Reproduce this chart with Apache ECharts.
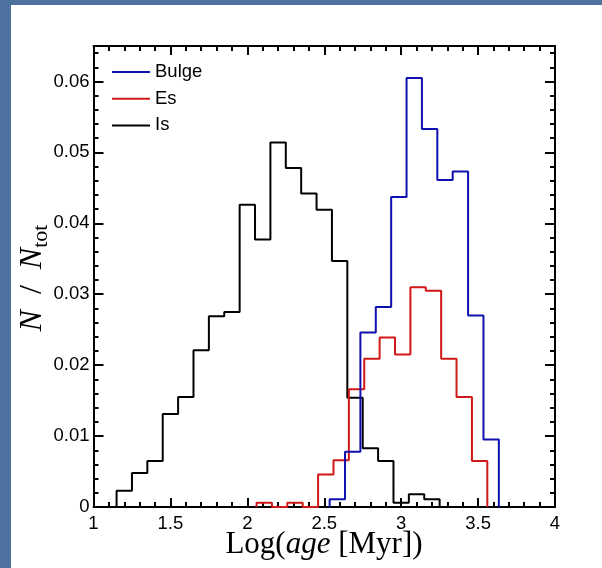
<!DOCTYPE html>
<html>
<head>
<meta charset="utf-8">
<script src="https://cdn.jsdelivr.net/npm/echarts@6/dist/echarts.min.js"></script>
<style>
  html, body { margin: 0; padding: 0; }
  body { width: 602px; height: 568px; background: #4e72a0; position: relative; overflow: hidden; }
  #panel { position: absolute; left: 11px; top: 5px; right: 0; bottom: 0; background: #ffffff; }
  #chart { position: absolute; left: 0; top: 0; width: 602px; height: 568px; }
</style>
</head>
<body>
<div id="panel"></div>
<div id="chart"></div>
<script>
// ---- data (histograms, bin width 0.1 in Log(age)) ----
const binWidth = 0.1;
const bulgeStart = 2.535;
const bulgeValues = [0.0011, 0.0078, 0.0246, 0.0282, 0.0437, 0.0605, 0.0533, 0.0461, 0.0473, 0.0270, 0.0095];
const esStart = 2.06;
const esValues = [0.0006, 0, 0.0006, 0, 0.0046, 0.0066, 0.0166, 0.0209, 0.0239, 0.0215, 0.0310, 0.0305, 0.0209, 0.0155, 0.0065];
const isStart = 1.15;
const isValues = [0.0023, 0.0048, 0.0065, 0.0131, 0.0155, 0.0221, 0.0269, 0.0275, 0.0426, 0.0377, 0.0514, 0.0478, 0.0442, 0.0419, 0.0347, 0.0154, 0.0083, 0.0065, 0.0006, 0.0018, 0.0011];
const seriesNames = ['Bulge', 'Es', 'Is'];
const xTicks = [1, 1.5, 2, 2.5, 3, 3.5, 4];
const yTicks = [0, 0.01, 0.02, 0.03, 0.04, 0.05, 0.06];

function stepPoints(start, values) {
  const pts = [[start, 0]];
  values.forEach((v, i) => {
    const a = +(start + i * binWidth).toFixed(4);
    const b = +(start + (i + 1) * binWidth).toFixed(4);
    pts.push([a, v], [b, v]);
  });
  pts.push([+(start + values.length * binWidth).toFixed(4), 0]);
  return pts;
}

const chart = echarts.init(document.getElementById('chart'), null, { renderer: 'canvas' });
const labelFont = { fontFamily: 'Liberation Sans, Arial, sans-serif', fontSize: 18.5, color: '#000' };
const lineStyleAxis = { color: '#000', width: 2 };

const xMajor = (pos, showLabel) => ({
  type: 'value', position: pos, min: xTicks[0], max: xTicks[xTicks.length - 1], interval: 0.5,
  axisLine: { show: true, onZero: false, lineStyle: lineStyleAxis },
  axisTick: { show: true, inside: true, length: 9, lineStyle: { color: '#000', width: 2 } },
  minorTick: { show: true, splitNumber: 5, length: 5, lineStyle: { color: '#000', width: 2 } },
  axisLabel: Object.assign({ show: showLabel, margin: 7 }, labelFont),
  splitLine: { show: false }, minorSplitLine: { show: false }
});
const yMajor = (pos, showLabel) => ({
  type: 'value', position: pos, min: 0, max: 0.065, interval: 0.01,
  axisLine: { show: true, onZero: false, lineStyle: lineStyleAxis },
  axisTick: { show: true, inside: true, length: 10, lineStyle: { color: '#000', width: 2 } },
  axisLabel: Object.assign({ show: showLabel, margin: 4,
    formatter: v => (yTicks.some(t => Math.abs(t - v) < 1e-9) ? String(v) : '') }, labelFont),
  splitLine: { show: false }
});
const yMinor = (pos) => ({
  type: 'value', position: pos, min: 0, max: 0.065, interval: 0.002,
  axisLine: { show: false },
  axisTick: { show: true, inside: true, length: 5, lineStyle: { color: '#000', width: 2 } },
  axisLabel: { show: false }, splitLine: { show: false }
});

const colors = ['#1010b0', '#d01818', '#000000'];
const allData = [stepPoints(bulgeStart, bulgeValues), stepPoints(esStart, esValues), stepPoints(isStart, isValues)];

chart.setOption({
  animation: false,
  backgroundColor: 'transparent',
  grid: { left: 93.5, right: 47, top: 46, bottom: 61 },
  xAxis: [xMajor('bottom', true), xMajor('top', false)],
  yAxis: [yMajor('left', true), yMinor('left'), yMajor('right', false), yMinor('right')],
  legend: {
    orient: 'vertical', left: 112, top: 62, padding: 0, itemGap: 6.7,
    itemWidth: 38, itemHeight: 2, icon: 'rect',
    textStyle: { fontFamily: 'Liberation Sans, Arial, sans-serif', fontSize: 18.5, color: '#000', lineHeight: 20 },
    data: seriesNames
  },
  series: seriesNames.map((name, i) => ({
    name, type: 'line', xAxisIndex: 0, yAxisIndex: 0,
    data: allData[i], showSymbol: false, symbol: 'none', clip: false,
    lineStyle: { color: colors[i], width: 2 }, itemStyle: { color: colors[i] }, z: 3 - i
  })),
  graphic: [
    {
      type: 'text', x: 324, y: 545,
      style: {
        text: '{r|Log(}{i|age}{r| [Myr])}',
        align: 'center', verticalAlign: 'middle',
        rich: {
          r: { fontFamily: 'Liberation Serif, Times New Roman, serif', fontSize: 31, fill: '#000' },
          i: { fontFamily: 'Liberation Serif, Times New Roman, serif', fontSize: 31, fontStyle: 'italic', fill: '#000' }
        }
      }
    },
    {
      type: 'text', x: 36, y: 278, rotation: Math.PI / 2,
      style: {
        text: '{i|N}{r|  /  }{i|N}{s|tot}',
        align: 'center', verticalAlign: 'middle',
        rich: {
          i: { fontFamily: 'Liberation Serif, Times New Roman, serif', fontSize: 32, fontStyle: 'italic', fill: '#000', lineHeight: 32, padding: [0, 0, 6, 0] },
          r: { fontFamily: 'Liberation Serif, Times New Roman, serif', fontSize: 32, fill: '#000', lineHeight: 32, padding: [0, 0, 6, 0] },
          s: { fontFamily: 'Liberation Serif, Times New Roman, serif', fontSize: 22, fill: '#000', lineHeight: 22, verticalAlign: 'bottom' }
        }
      }
    }
  ]
});
</script>
</body>
</html>
